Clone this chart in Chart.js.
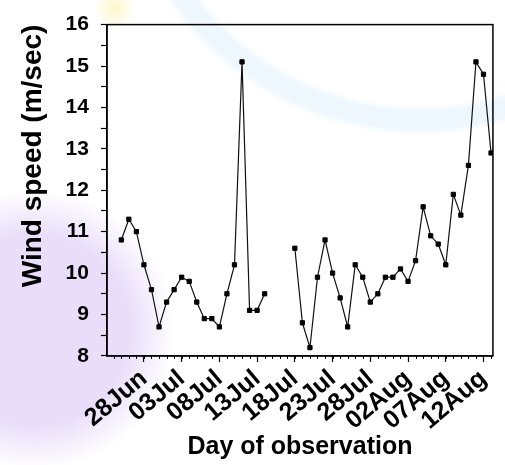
<!DOCTYPE html>
<html>
<head>
<meta charset="utf-8">
<script src="https://cdn.jsdelivr.net/npm/chart.js@4.4.1/dist/chart.umd.min.js"></script>
<style>
  html, body { margin: 0; padding: 0; background: #fff; }
  #wrap {
    position: relative; width: 505px; height: 465px; overflow: hidden;
    /* faint watermark shapes behind the chart */
    background:
      radial-gradient(circle at 35px 330px, rgba(226,210,248,0.75) 0, rgba(226,210,248,0.75) 95px, rgba(226,210,248,0) 140px),
      radial-gradient(circle at 420px -170px, rgba(255,255,255,0) 275px, rgba(218,238,252,0.45) 282px, rgba(218,238,252,0.45) 298px, rgba(255,255,255,0) 306px),
      radial-gradient(circle at 115px 8px, rgba(255,244,190,0.8) 0, rgba(255,244,190,0) 22px),
      #fff;
  }
  canvas { position: absolute; left: 0; top: 0; }
</style>
</head>
<body>
<div id="wrap"><canvas id="chart" width="505" height="465"></canvas></div>
<script>
// ---- data ----
const dates = [
  "25Jun", "26Jun", "27Jun", "28Jun", "29Jun", "30Jun",
  "01Jul", "02Jul", "03Jul", "04Jul", "05Jul", "06Jul", "07Jul", "08Jul", "09Jul", "10Jul",
  "11Jul", "12Jul", "13Jul", "14Jul", "15Jul", "16Jul", "17Jul", "18Jul", "19Jul", "20Jul",
  "21Jul", "22Jul", "23Jul", "24Jul", "25Jul", "26Jul", "27Jul", "28Jul", "29Jul", "30Jul", "31Jul",
  "01Aug", "02Aug", "03Aug", "04Aug", "05Aug", "06Aug", "07Aug", "08Aug", "09Aug", "10Aug",
  "11Aug", "12Aug", "13Aug"
];

// m/sec, null = no observation
const windSpeed = [
  10.8, 11.3, 11.0, 10.2, 9.6, 8.7,
  9.3, 9.6, 9.9, 9.8, 9.3, 8.9, 8.9, 8.7, 9.5, 10.2,
  15.1, 9.1, 9.1, 9.5, null, null, null, 10.6, 8.8, 8.2,
  9.9, 10.8, 10.0, 9.4, 8.7, 10.2, 9.9, 9.3, 9.5, 9.9, 9.9,
  10.1, 9.8, 10.3, 11.6, 10.9, 10.7, 10.2, 11.9, 11.4, 12.6,
  15.1, 14.8, 12.9
];

const tickLabels = ["28Jun", "03Jul", "08Jul", "13Jul", "18Jul", "23Jul", "28Jul", "02Aug", "07Aug", "12Aug"];

const FONT = "'Liberation Sans', Arial, sans-serif";

// box round the plot + small daily ticks on the x axis
const framePlugin = {
  id: "frame",
  afterDraw(chart) {
    const { ctx, chartArea: a, scales } = chart;
    ctx.save();
    ctx.strokeStyle = "#000";
    ctx.lineWidth = 1.5;
    ctx.strokeRect(a.left, a.top, a.right - a.left, a.bottom - a.top);

    const xs = scales.x;
    ctx.lineWidth = 1;
    ctx.beginPath();
    for (let v = Math.ceil(xs.min); v <= xs.max; v++) {
      const px = Math.round(xs.getPixelForValue(v)) + 0.5;
      ctx.moveTo(px, a.bottom);
      ctx.lineTo(px, a.bottom + 3);
    }
    ctx.stroke();
    ctx.restore();
  }
};

new Chart(document.getElementById("chart"), {
  type: "line",
  data: {
    datasets: [{
      label: "Wind speed",
      data: windSpeed.map((y, i) => ({ x: i, y })),
      borderColor: "#111",
      borderWidth: 1.2,
      backgroundColor: "#000",
      pointStyle: "rect",
      pointRadius: 3,
      pointBorderWidth: 1,
      pointBorderColor: "#000",
      pointBackgroundColor: "#000",
      spanGaps: false,
      tension: 0
    }]
  },
  options: {
    responsive: false,
    animation: false,
    layout: { padding: { left: 12, right: 9, top: 24, bottom: 2 } },
    plugins: { legend: { display: false }, tooltip: { enabled: false } },
    scales: {
      x: {
        type: "linear",
        min: -1.9,
        max: 49.25,
        afterBuildTicks: (scale) => {
          scale.ticks = tickLabels.map(l => ({ value: dates.indexOf(l) }));
        },
        ticks: {
          autoSkip: false,
          minRotation: 40,
          maxRotation: 40,
          padding: 2,
          color: "#000",
          font: { family: FONT, size: 25, weight: "bold" },
          callback: (v) => dates[v]
        },
        grid: { drawOnChartArea: false, drawTicks: true, tickLength: 6, tickColor: "#000", tickWidth: 1.2 },
        border: { color: "#000", width: 1.5 },
        title: {
          display: true,
          text: "Day of observation",
          color: "#000",
          font: { family: FONT, size: 25, weight: "bold" },
          padding: { top: -6, bottom: 1 }
        }
      },
      y: {
        min: 8,
        max: 16,
        ticks: {
          stepSize: 0.5,
          autoSkip: false,
          padding: 12,
          color: "#000",
          font: { family: FONT, size: 21, weight: "bold" },
          callback: (v) => Number.isInteger(v) ? v : ""
        },
        grid: { drawOnChartArea: false, drawTicks: true, tickLength: 6, tickColor: "#000", tickWidth: 1.2 },
        border: { color: "#000", width: 1.5 },
        title: {
          display: true,
          text: "Wind speed (m/sec)",
          align: "end",
          color: "#000",
          font: { family: FONT, size: 28, weight: "bold" },
          padding: { top: 4, bottom: 4 }
        }
      }
    }
  },
  plugins: [framePlugin]
});
</script>
</body>
</html>
